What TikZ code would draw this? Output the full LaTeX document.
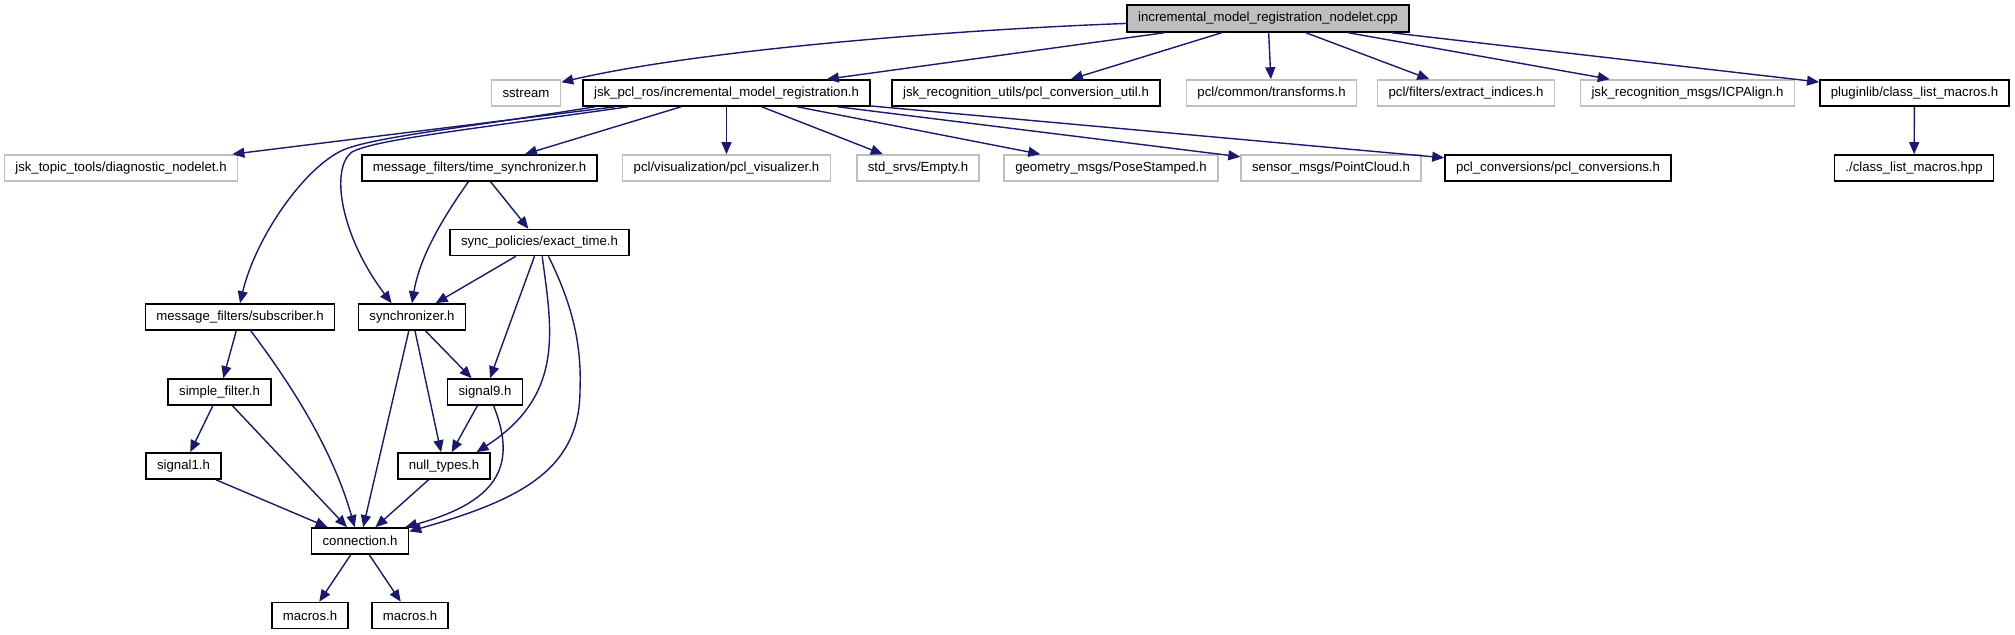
\documentclass[tikz,border=0pt]{standalone}
\usepackage{fontspec}
\setmainfont{Liberation Sans}
\usetikzlibrary{arrows.meta}
\definecolor{depblue}{HTML}{191970}
\definecolor{extgray}{HTML}{BFBFBF}

\begin{document}
\begin{tikzpicture}[x=0.5pt, y=-0.5pt,
    file/.style={draw=black, line width=0.8pt, fill=white, font=\fontsize{6.6}{7}\selectfont,
      inner xsep=5.5pt, inner ysep=0pt, minimum height=13pt},
    ext/.style={file, draw=extgray},
    dep/.style={draw=depblue, line width=0.7pt, -{Triangle[length=6pt,width=5pt]}}]
    \useasboundingbox[fill=white] (0,0) rectangle (2015,635);

    \node[file, fill=extgray, minimum height=13.5pt] (root) at (1268,18.5) {incremental\_model\_registration\_nodelet.cpp};

    \node[ext]  (sstream)     at (526,93)    {sstream};
    \node[file] (jskpcl)      at (726.5,93)  {jsk\_pcl\_ros/incremental\_model\_registration.h};
    \node[file] (pclconvutil) at (1026,93)   {jsk\_recognition\_utils/pcl\_conversion\_util.h};
    \node[ext]  (transforms)  at (1271.5,93) {pcl/common/transforms.h};
    \node[ext]  (extract)     at (1466,93)   {pcl/filters/extract\_indices.h};
    \node[ext]  (icpalign)    at (1687.5,93) {jsk\_recognition\_msgs/ICPAlign.h};
    \node[file] (pluginlib)   at (1914.5,93) {pluginlib/class\_list\_macros.h};

    \node[ext]  (diagnostic)  at (121,168)   {jsk\_topic\_tools/diagnostic\_nodelet.h};
    \node[file] (timesync)    at (479.5,168) {message\_filters/time\_synchronizer.h};
    \node[ext]  (visualizer)  at (726.5,168) {pcl/visualization/pcl\_visualizer.h};
    \node[ext]  (empty)       at (918,168)   {std\_srvs/Empty.h};
    \node[ext]  (posestamped) at (1111,168)  {geometry\_msgs/PoseStamped.h};
    \node[ext]  (pointcloud)  at (1331,168)  {sensor\_msgs/PointCloud.h};
    \node[file] (pclconv)     at (1558,168)  {pcl\_conversions/pcl\_conversions.h};
    \node[file] (classhpp)    at (1914,168)  {./class\_list\_macros.hpp};

    \node[file] (exacttime)    at (539.5,242.5) {sync\_policies/exact\_time.h};
    \node[file] (subscriber)   at (240,317)     {message\_filters/subscriber.h};
    \node[file] (synchronizer) at (412,317)     {synchronizer.h};
    \node[file] (simplefilter) at (219.5,392)   {simple\_filter.h};
    \node[file] (signalnine)   at (485,392)     {signal9.h};
    \node[file] (signalone)    at (183.5,466)   {signal1.h};
    \node[file] (nulltypes)    at (444,466)     {null\_types.h};
    \node[file] (connection)   at (360,541)     {connection.h};
    \node[file] (macrosa)      at (310,615.5)   {macros.h};
    \node[file] (macrosb)      at (410,615.5)   {macros.h};

    \draw[dep] (root.-178) .. controls (950,30) and (700,50) .. (sstream.17);
    \draw[dep] (root) -- (jskpcl);
    \draw[dep] (root) -- (pclconvutil);
    \draw[dep] (root) -- (transforms);
    \draw[dep] (root) -- (extract);
    \draw[dep] (root) -- (icpalign);
    \draw[dep] (root) -- (pluginlib);
    \draw[dep] (pluginlib) -- (classhpp);

    \draw[dep] (jskpcl) -- (diagnostic);
    \draw[dep] (jskpcl) -- (timesync);
    \draw[dep] (jskpcl) -- (visualizer);
    \draw[dep] (jskpcl) -- (empty);
    \draw[dep] (jskpcl) -- (posestamped);
    \draw[dep] (jskpcl) -- (pointcloud);
    \draw[dep] (jskpcl) -- (pclconv);
    \draw[dep] (jskpcl.-174) .. controls (450,130) and (365,138) .. (339,152)
        .. controls (300,173) and (255,240) .. (subscriber.north);
    \draw[dep] (jskpcl.-172) .. controls (450,132) and (375,140) .. (352,152)
        .. controls (330,168) and (340,235) .. (synchronizer.146);

    \draw[dep] (timesync.-129) .. controls (445,215) and (420,255) .. (synchronizer.north);
    \draw[dep] (timesync) -- (exacttime);
    \draw[dep] (exacttime) -- (synchronizer);
    \draw[dep] (exacttime) -- (signalnine);
    \draw[dep] (exacttime.-79) .. controls (552,330) and (565,395) .. (nulltypes.23);
    \draw[dep] (exacttime.-57) .. controls (570,300) and (582,340) .. (580,390)
        .. controls (580,470) and (520,500) .. (connection.11);

    \draw[dep] (subscriber) -- (simplefilter);
    \draw[dep] (subscriber.-52) .. controls (280,370) and (330,440) .. (connection.111);
    \draw[dep] (synchronizer) -- (connection);
    \draw[dep] (synchronizer) -- (nulltypes);
    \draw[dep] (synchronizer) -- (signalnine);
    \draw[dep] (simplefilter) -- (signalone);
    \draw[dep] (simplefilter) -- (connection);
    \draw[dep] (signalone) -- (connection);
    \draw[dep] (signalnine) -- (nulltypes);
    \draw[dep] (signalnine.-58) .. controls (515,460) and (505,500) .. (connection.17);
    \draw[dep] (nulltypes) -- (connection);
    \draw[dep] (connection) -- (macrosa);
    \draw[dep] (connection) -- (macrosb);
\end{tikzpicture}
\end{document}
